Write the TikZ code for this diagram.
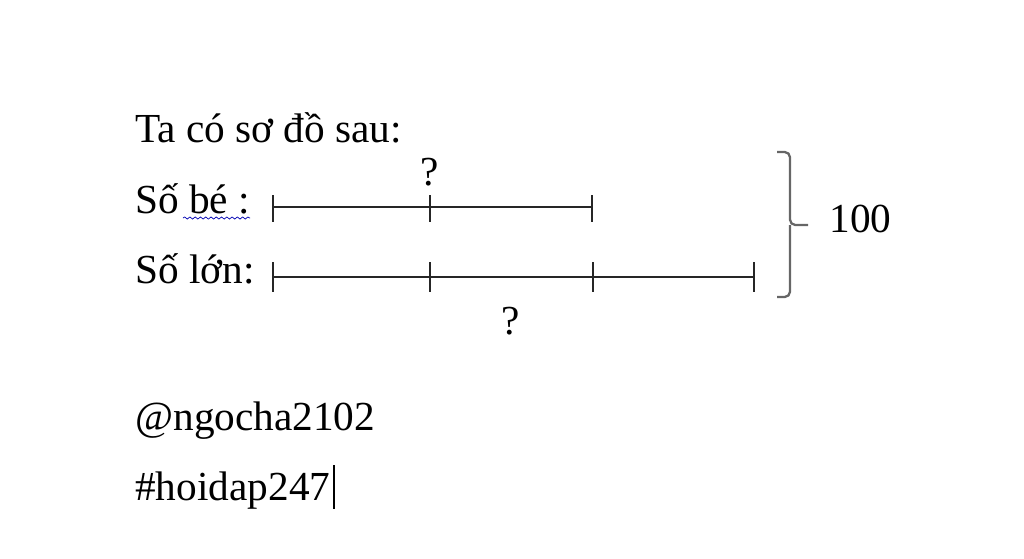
\documentclass[tikz,border=0pt]{standalone}
\usepackage{fontspec}
\setmainfont{Liberation Serif}
\usetikzlibrary{decorations.pathmorphing}
\tikzset{lbl/.style={inner sep=0pt,anchor=base west},
  seg/.style={line width=0.9pt,black!85},
  tick/.style={line width=0.9pt,black!85}}
\begin{document}
\begin{tikzpicture}[x=0.02cm,y=-0.02cm,font=\fontsize{23.5}{28}\selectfont]
    \useasboundingbox (0,0) rectangle (1024,558);
    \node[lbl] (title) at (135,142) {Ta có sơ đồ sau:};
    \node[lbl] (be) at (135,213) {Số bé :};
    \node[lbl] (lon) at (135,283) {Số lớn:};
    \draw[blue!70!black,line width=0.4pt,decorate,decoration={snake,amplitude=0.6pt,segment length=3pt}] (183,218) -- (250,218);
    % so be
    \coordinate (b0) at (273,207); \coordinate (b1) at (430,207); \coordinate (b2) at (592,207);
    \draw[seg] (b0) -- (b2);
    \foreach \p in {b0,b1,b2}{\draw[tick] ([yshift=0.24cm]\p) -- ([yshift=-0.3cm]\p);}
    % so lon
    \coordinate (l0) at (273,277); \coordinate (l1) at (430,277); \coordinate (l2) at (593,277); \coordinate (l3) at (754,277);
    \draw[seg] (l0) -- (l3);
    \foreach \p in {l0,l1,l2,l3}{\draw[tick] ([yshift=0.3cm]\p) -- ([yshift=-0.3cm]\p);}
    \node[inner sep=0pt] (q1) at (430,172) {?};
    \node[inner sep=0pt] (q2) at (511,321) {?};
    % ngoac
    \coordinate (nt) at (777,152); \coordinate (nb) at (777,297); \coordinate (nm) at (808,225);
    \draw[line width=1.3pt,black!60,rounded corners=3pt] (nt) -- (790,152) -- (790,225) -- (nm);
    \draw[line width=1.3pt,black!60,rounded corners=3pt] (nb) -- (790,297) -- (790,225);
    \node[lbl] (tong) at (829,232) {100};
    \node[lbl] (user) at (135,430) {@ngocha2102};
    \node[lbl] (tag) at (135,500) {\#hoidap247};
    \draw[line width=0.8pt] ([xshift=2pt,yshift=-5pt]tag.base east) -- ([xshift=2pt,yshift=20pt]tag.base east);
\end{tikzpicture}
\end{document}
